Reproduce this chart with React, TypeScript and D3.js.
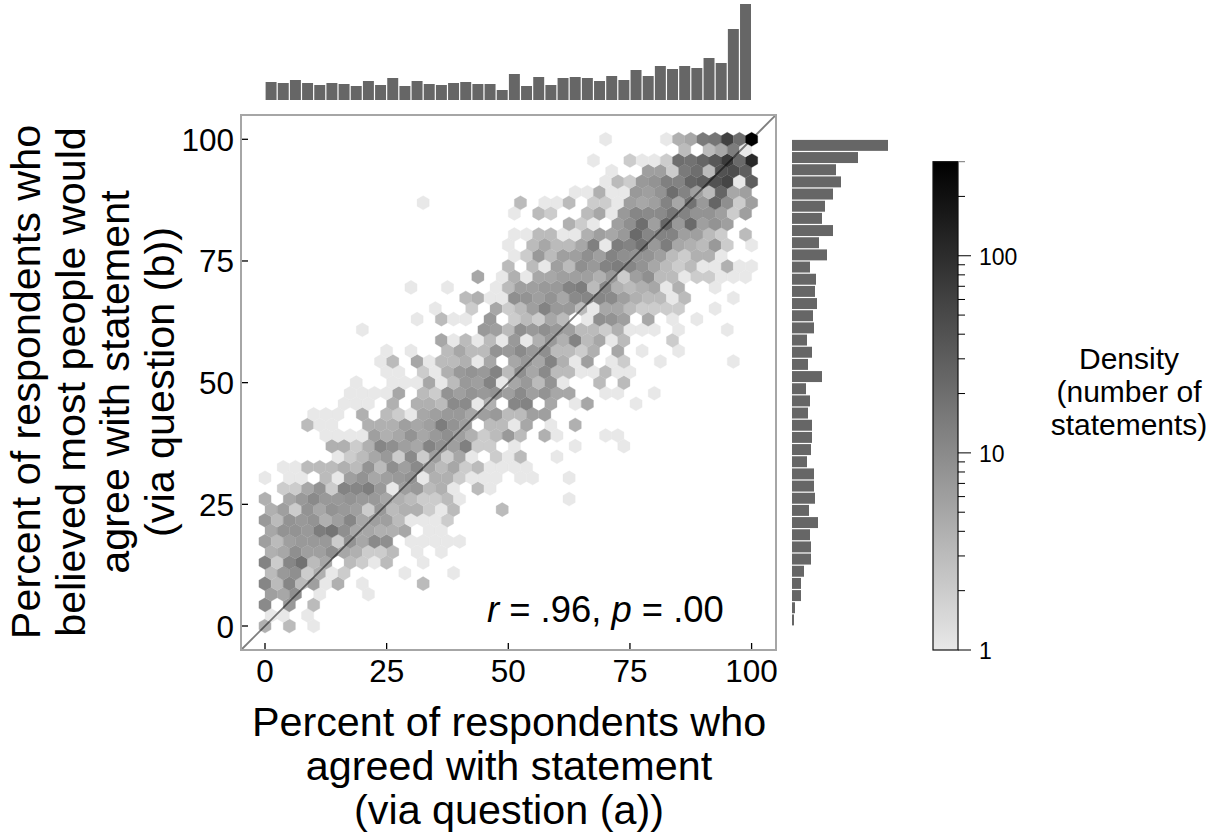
import * as d3 from "d3";

// hexbin counts, read row by row from the bottom (y = 0) up. rowStart is the first column of each row
const rowStart = [0,0,0,0,0,0,0,0,0,0,0,0,0,1,0,1,6,5,5,3,4,6,7,7,10,9,10,14,8,12,14,16,12,17,20,20,20,20,25,20,13,25,28,28,27,34,28];
const rowCounts: number[][] = [
  [4,0,3,0,1],
  [1,1,0,1],
  [10,0,7,0,3],
  [6,5,9,0,1,0,0,0,1],
  [11,3,11,3,6,1,4,0,1,0,0,0,0,3],
  [3,7,9,2,4,1,2,0,0,0,0,1,0,0,0,1],
  [12,2,11,18,3,5,0,3,2,1,3,0,0,1],
  [4,5,9,6,6,9,5,4,2,2,3,0,1,0,1],
  [6,3,6,7,7,7,2,8,5,10,9,0,1,1,1,1,1],
  [5,8,8,7,14,17,9,5,5,4,4,5,0,1,1],
  [7,3,8,7,8,4,6,11,5,6,6,3,1,1,1,2],
  [4,6,2,8,5,8,7,6,2,7,3,4,4,2,1,3,0,0,0,3],
  [4,0,5,7,10,7,7,8,7,7,5,4,3,2,2,3,1,0,0,0,0,0,0,0,0,1],
  [2,2,5,8,2,12,11,14,7,1,6,7,3,4,1,0,3,1],
  [1,0,1,1,0,3,1,6,8,5,6,7,8,1,4,4,2,1,1,1,0,1,1,0,0,1],
  [1,1,3,3,3,4,3,8,3,9,6,10,5,3,5,2,3,1,1,1,1],
  [1,2,3,5,7,2,10,2,6,2,5,1,0,2,1,3,0,0,1],
  [4,4,2,4,11,9,6,5,12,8,6,13,2,2,0,1,0,0,0,0,1,0,0,0,1],
  [1,1,1,1,6,4,5,8,5,7,9,6,4,2,3,7,3,0,4,1,0,0,0,1,1],
  [3,1,1,0,0,4,4,4,6,5,6,14,8,6,0,3,3,1,5,0,1,0,4],
  [1,1,1,0,4,0,3,2,1,5,6,7,7,5,6,7,3,3,6,6],
  [1,1,1,0,4,0,4,4,3,10,10,1,4,0,11,12,0,5,0,1,5,0,0,0,1],
  [1,1,1,1,5,0,3,2,8,6,8,7,8,6,10,6,8,5,5,0,0,1,1,0,0,1],
  [1,0,0,1,1,1,5,1,3,7,6,12,1,5,7,3,8,1,0,0,3,0,3],
  [1,1,0,2,1,4,7,8,7,12,3,9,5,10,3,3,1,1,3,1,1],
  [1,3,0,5,1,3,3,4,1,5,0,5,7,5,12,4,1,6,0,1,2,0,0,1,0,0,0,0,0,1],
  [1,0,1,0,0,3,5,3,3,8,7,10,7,9,3,3,2,4,0,5,0,1,0,0,1],
  [5,1,3,1,3,1,7,1,4,7,4,12,3,5,1,3,0,0,0,2],
  [1,0,0,0,0,0,0,0,0,0,7,6,3,9,7,9,7,6,3,3,2,4,1,1,1,0,1,0,0,0,1],
  [1,0,3,1,1,0,7,0,2,3,2,5,3,0,1,9,8,6,0,5,0,1,0,1],
  [1,0,0,2,0,5,2,3,6,12,7,7,3,1,5,5,3,2,2,2,2,0,0,1],
  [3,4,1,1,9,8,6,8,5,10,11,11,10,6,4,3,3,1,3,0,0,0,1],
  [1,0,0,1,0,0,0,1,3,6,6,7,7,12,14,3,10,4,3,4,5,1,4,0,0,1],
  [5,0,1,4,1,5,5,6,6,6,4,7,2,6,9,3,3,1,2,2,1,1,1],
  [3,0,3,1,6,3,9,7,12,14,11,8,5,3,2,3,1,1,4,1,1],
  [1,2,7,3,6,6,9,6,12,9,8,8,6,3,2,4,4,1],
  [1,0,3,5,3,3,5,13,1,14,12,18,7,14,5,4,3,7,2,0,1],
  [1,1,3,3,1,1,4,6,5,7,22,11,12,12,6,6,3,2,0,3],
  [4,2,1,0,6,9,20,6,24,7,22,6,8,6],
  [1,0,3,2,0,0,3,5,1,7,11,10,10,16,12,8,8,6,2,6],
  [1,0,0,0,0,0,0,0,3,0,1,1,3,0,2,2,1,6,5,6,12,5,18,7,25,9,2,6],
  [1,1,4,1,1,7,6,8,20,12,6,3,25,5,6],
  [1,3,2,7,8,13,12,25,30,40,55,1,30],
  [1,0,0,6,6,2,15,20,3,40,45,30],
  [1,0,0,2,1,1,2,20,18,25,35,70,22,110],
  [3,0,3,5,14,1],
  [1,0,0,0,0,1,4,5,15,17,60,20,300],
];

// marginal histograms, 40 bins of 2.5 points
const topHist = [90,85,100,85,75,85,80,70,95,75,110,70,95,80,75,85,90,80,80,50,130,70,115,75,110,115,110,95,120,100,150,120,170,155,170,160,210,185,355,480];
// right histogram listed from the 100 end down to the 0 end
const rightHist = [480,330,220,245,205,165,150,205,135,175,90,120,115,125,105,110,75,100,80,150,70,90,80,100,100,95,75,110,110,115,85,130,90,95,95,60,45,45,15,10];

const axisTicks = [0, 25, 50, 75, 100];
const xTitle = ["Percent of respondents who", "agreed with statement", "(via question (a))"];
const yTitle = ["Percent of respondents who", "believed most people would", "agree with statement", "(via question (b))"];
const densityTitle = ["Density", "(number of", "statements)"];
const colorMax = 300;
const colorTicks = [1, 2, 3, 4, 5, 6, 7, 8, 9, 10, 20, 30, 40, 50, 60, 70, 80, 90, 100, 200];
const colorLabels = [1, 10, 100];

const FONT = "'Liberation Sans', Arial, sans-serif";
const BAR = "#666666";

const x = d3.scaleLinear([0, 100], [265, 751.6]);
const y = d3.scaleLinear([0, 100], [626, 139.3]);
const box = { left: 241, right: 776, top: 115, bottom: 650 };

// same lattice as matplotlib's hexbin with gridsize 40
const sx = 100 / 40;
const sy = 100 / Math.floor(40 / Math.sqrt(3));

const logScale = d3.scaleLog([1, colorMax], [0, 1]);
const shade = (n: number) => {
  const g = Math.round(232 * (1 - logScale(n)));
  return `rgb(${g},${g},${g})`;
};
const cbY = d3.scaleLog([1, colorMax], [650, 161.7]);

const hexes = rowCounts.flatMap((counts, r) =>
  counts.flatMap((n, i) => {
    if (!n) return [];
    const cx = (rowStart[r] + i + (r % 2 ? 0.5 : 0)) * sx;
    const cy = (r / 2) * sy;
    return [{ key: `${r}-${i}`, n, cx, cy }];
  })
);

const hexPath = (cx: number, cy: number) => {
  const pts: [number, number][] = [
    [cx + sx / 2, cy - sy / 6],
    [cx + sx / 2, cy + sy / 6],
    [cx, cy + sy / 3],
    [cx - sx / 2, cy + sy / 6],
    [cx - sx / 2, cy - sy / 6],
    [cx, cy - sy / 3],
  ];
  return pts.map((p) => `${x(p[0]).toFixed(2)},${y(p[1]).toFixed(2)}`).join(" ");
};

const histH = d3.scaleLinear([0, 480], [0, 96]);
const gradStops = d3.range(0, 1.001, 0.05);

export default function App() {
  return (
    <svg
      width={1215}
      height={837}
      style={{ position: "absolute", left: 0, top: 0, background: "#fff" }}
      fontFamily={FONT}
    >
      <defs>
        <linearGradient id="cb" x1="0" y1="1" x2="0" y2="0">
          {gradStops.map((t) => (
            <stop key={t} offset={t} stopColor={shade(logScale.invert(t))} />
          ))}
        </linearGradient>
      </defs>

      {/* hexbin */}
      <g>
        {hexes.map((h) => (
          <polygon
            key={h.key}
            points={hexPath(h.cx, h.cy)}
            fill={shade(h.n)}
            stroke={shade(h.n)}
            strokeWidth={0.3}
          />
        ))}
      </g>

      <line
        x1={x(-4.93)}
        y1={y(-4.93)}
        x2={x(105)}
        y2={y(105)}
        stroke="#000"
        strokeOpacity={0.5}
        strokeWidth={1.8}
      />

      <rect
        x={box.left}
        y={box.top}
        width={box.right - box.left}
        height={box.bottom - box.top}
        fill="none"
        stroke="#a6a6a6"
        strokeWidth={2}
      />

      {/* ticks */}
      {axisTicks.map((t) => (
        <g key={t}>
          <line x1={x(t)} x2={x(t)} y1={box.bottom - 1} y2={box.bottom - 7} stroke="#000" strokeWidth={1.3} />
          <text x={x(t)} y={682} textAnchor="middle" fontSize={31.5} fill="#000">
            {t}
          </text>
          <line x1={box.left + 1} x2={box.left + 7} y1={y(t)} y2={y(t)} stroke="#000" strokeWidth={1.3} />
          <text x={234} y={y(t) + 11.5} textAnchor="end" fontSize={31.5} fill="#000">
            {t}
          </text>
        </g>
      ))}

      <text x={487} y={622} fontSize={36.4} fill="#000">
        <tspan fontStyle="italic">r</tspan> = .96, <tspan fontStyle="italic">p</tspan> = .00
      </text>

      {/* axis titles */}
      {xTitle.map((s, i) => (
        <text key={s} x={509} y={736 + i * 44} textAnchor="middle" fontSize={41.3} fill="#000">
          {s}
        </text>
      ))}
      {yTitle.map((s, i) => (
        <text
          key={s}
          transform={`translate(${40 + i * 44.5},382) rotate(-90)`}
          textAnchor="middle"
          fontSize={41.3}
          fill="#000"
        >
          {s}
        </text>
      ))}

      {/* marginals */}
      {topHist.map((v, i) => (
        <rect key={i} x={x(i * sx) + 0.6} y={100 - histH(v)} width={x(sx) - x(0) - 1.2} height={histH(v)} fill={BAR} />
      ))}
      {rightHist.map((v, i) => (
        <rect key={i} x={792} y={y(100 - i * sx) + 0.6} width={histH(v)} height={y(0) - y(sx) - 1.2} fill={BAR} />
      ))}

      {/* colour bar */}
      <rect x={933} y={cbY(colorMax)} width={25} height={cbY(1) - cbY(colorMax)} fill="url(#cb)" stroke="#111" strokeWidth={1.2} />
      {colorTicks.map((t) => {
        const major = colorLabels.includes(t);
        return (
          <line key={t} x1={958} x2={major ? 971 : 965} y1={cbY(t)} y2={cbY(t)} stroke="#000" strokeWidth={1} />
        );
      })}
      <line x1={958} x2={965} y1={cbY(colorMax)} y2={cbY(colorMax)} stroke="#777" strokeWidth={1} />
      {colorLabels.map((t) => (
        <text key={t} x={979} y={cbY(t) + 9} fontSize={23} fill="#000">
          {t}
        </text>
      ))}
      {densityTitle.map((s, i) => (
        <text key={s} x={1129} y={369 + i * 33} textAnchor="middle" fontSize={30} fill="#000">
          {s}
        </text>
      ))}
    </svg>
  );
}
